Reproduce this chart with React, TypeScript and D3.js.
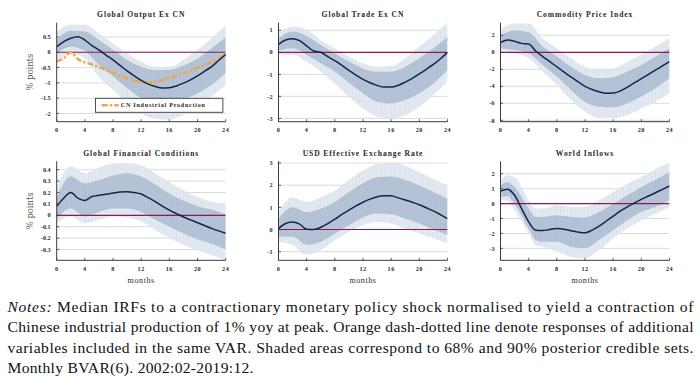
import React from "react";
import * as d3 from "d3";

// ---------- shared categories ----------
const months = d3.range(0, 25);
const xTickVals = [0, 4, 8, 12, 16, 20, 24];
const evenMonths = [0, 2, 4, 6, 8, 10, 12, 14, 16, 18, 20, 22, 24];

// ---------- Panel 1: Global Output Ex CN ----------
const p1Title = "Global Output Ex CN";
const p1Ticks = [0.5, 0, -0.5, -1, -1.5, -2];
const p1Median = [0.18, 0.35, 0.46, 0.51, 0.4, 0.22, 0.08, -0.09, -0.25, -0.43, -0.61, -0.77, -0.92, -1.04, -1.12, -1.17, -1.16, -1.1, -1.01, -0.9, -0.77, -0.62, -0.47, -0.27, -0.07];
const p1Orange = [-0.3, -0.2, 0, -0.22, -0.33, -0.4, -0.48, -0.58, -0.68, -0.77, -0.86, -0.93, -0.98, -1.0, -0.97, -0.91, -0.84, -0.76, -0.68, -0.6, -0.51, -0.42, -0.33, -0.2, -0.03];
const p1Hi90 = [0.67, 0.9, 0.9, 0.62, 0.29, -0.03, -0.3, -0.47, -0.47, -0.25, 0.08, 0.46, 0.88];
const p1Hi68 = [0.4, 0.7, 0.68, 0.4, 0.08, -0.25, -0.47, -0.58, -0.57, -0.43, -0.2, 0.13, 0.49];
const p1Lo68 = [-0.03, 0.18, 0.05, -0.41, -0.79, -1.17, -1.5, -1.66, -1.66, -1.55, -1.34, -1.07, -0.68];
const p1Lo90 = [-0.3, -0.05, -0.2, -0.8, -1.23, -1.66, -1.99, -2.18, -2.2, -2.04, -1.77, -1.45, -1.07];
const p1Legend = "CN Industrial Production";

// ---------- Panel 2: Global Trade Ex CN ----------
const p2Title = "Global Trade Ex CN";
const p2Ticks = [1, 0, -1, -2, -3];
const p2Median = [0.36, 0.56, 0.62, 0.53, 0.29, 0.06, 0.0, -0.2, -0.38, -0.59, -0.82, -1.03, -1.23, -1.38, -1.5, -1.58, -1.58, -1.5, -1.35, -1.18, -0.98, -0.77, -0.55, -0.29, 0.0];
const p2Hi90 = [0.86, 1.17, 1.02, 0.56, 0.18, -0.2, -0.5, -0.65, -0.62, -0.27, 0.26, 0.79, 1.35];
const p2Hi68 = [0.64, 0.94, 0.74, 0.33, -0.05, -0.42, -0.73, -0.88, -0.88, -0.65, -0.27, 0.18, 0.71];
const p2Lo68 = [0.08, 0.18, -0.12, -0.5, -0.88, -1.38, -1.86, -2.24, -2.32, -2.17, -1.86, -1.41, -0.8];
const p2Lo90 = [-0.12, -0.12, -0.42, -0.88, -1.41, -2.02, -2.55, -2.92, -3.0, -2.85, -2.47, -1.94, -1.33];

// ---------- Panel 3: Commodity Price Index ----------
const p3Title = "Commodity Price Index";
const p3Ticks = [2, 0, -2, -4, -6, -8];
const p3Median = [1.14, 1.45, 1.3, 1.05, 0.98, 0.15, -0.5, -1.1, -1.7, -2.3, -2.9, -3.45, -4.0, -4.38, -4.65, -4.82, -4.8, -4.55, -4.1, -3.6, -3.1, -2.6, -2.1, -1.6, -1.1];
const p3Hi90 = [2.7, 3.4, 3.4, 1.65, 0.47, -0.7, -1.7, -2.1, -1.9, -1.1, -0.3, 0.67, 1.65];
const p3Hi68 = [2.0, 2.55, 2.35, 0.67, -0.5, -1.7, -2.67, -3.06, -2.94, -2.27, -1.5, -0.5, 0.47];
const p3Lo68 = [0.47, 0.27, -0.12, -1.5, -2.86, -4.43, -5.8, -6.4, -6.47, -6.0, -5.2, -4.24, -3.06];
const p3Lo90 = [0.27, -0.1, -0.7, -2.27, -3.84, -5.6, -6.98, -7.76, -7.76, -7.37, -6.6, -5.8, -4.82];

// ---------- Panel 4: Global Financial Conditions ----------
const p4Title = "Global Financial Conditions";
const p4Ticks = [0.4, 0.3, 0.2, 0.1, 0, -0.1, -0.2, -0.3];
const p4Median = [0.08, 0.15, 0.2, 0.15, 0.13, 0.165, 0.175, 0.185, 0.195, 0.205, 0.207, 0.2, 0.187, 0.155, 0.12, 0.08, 0.045, 0.015, -0.015, -0.04, -0.065, -0.09, -0.115, -0.137, -0.157];
const p4Hi90 = [0.25, 0.43, 0.37, 0.42, 0.455, 0.46, 0.44, 0.37, 0.29, 0.22, 0.16, 0.12, 0.09];
const p4Hi68 = [0.16, 0.34, 0.28, 0.31, 0.35, 0.37, 0.34, 0.27, 0.19, 0.13, 0.08, 0.05, 0.01];
const p4Lo68 = [-0.03, 0.06, -0.01, 0.03, 0.06, 0.06, 0.03, -0.04, -0.1, -0.16, -0.21, -0.25, -0.3];
const p4Lo90 = [-0.07, -0.01, -0.07, -0.04, -0.01, -0.02, -0.055, -0.13, -0.2, -0.26, -0.31, -0.35, -0.39];

// ---------- Panel 5: USD Effective Exchange Rate ----------
const p5Title = "USD Effective Exchange Rate";
const p5Ticks = [3, 2, 1, 0, -1];
const p5Median = [0.04, 0.27, 0.34, 0.24, 0.01, 0.0, 0.1, 0.27, 0.47, 0.68, 0.88, 1.07, 1.23, 1.37, 1.48, 1.53, 1.52, 1.43, 1.33, 1.23, 1.12, 0.98, 0.84, 0.67, 0.49];
const p5Hi90 = [0.8, 1.46, 1.24, 1.46, 1.76, 2.24, 2.66, 2.96, 3.03, 2.88, 2.58, 2.28, 1.99];
const p5Hi68 = [0.49, 1.01, 0.79, 0.94, 1.24, 1.69, 2.09, 2.36, 2.39, 2.24, 1.99, 1.69, 1.39];
const p5Lo68 = [-0.33, -0.33, -0.7, -0.55, -0.18, 0.19, 0.54, 0.72, 0.69, 0.49, 0.27, 0.0, -0.25];
const p5Lo90 = [-0.55, -0.7, -1.15, -0.93, -0.48, -0.1, 0.19, 0.34, 0.27, 0.04, -0.18, -0.4, -0.63];

// ---------- Panel 6: World Inflows ----------
const p6Title = "World Inflows";
const p6Ticks = [2, 1, 0, -1, -2, -3];
const p6BandMonths = [0, 1, 2, 4, 5, 6, 8, 10, 12, 14, 16, 18, 20, 22, 24];
const p6Median = [0.84, 0.96, 0.56, -0.33, -1.22, -1.78, -1.8, -1.73, -1.67, -1.71, -1.82, -1.91, -1.96, -1.78, -1.51, -1.18, -0.84, -0.51, -0.22, 0.04, 0.29, 0.51, 0.73, 0.96, 1.18];
const p6Hi90 = [1.56, 1.9, 1.78, 0.22, -0.33, -0.33, -0.11, -0.22, -0.22, 0.22, 0.78, 1.33, 1.78, 2.33, 2.78];
const p6Hi68 = [1.22, 1.44, 1.11, -0.33, -0.89, -0.89, -0.78, -0.89, -0.93, -0.56, 0.0, 0.56, 1.11, 1.6, 2.11];
const p6Lo68 = [0.44, 0.5, 0.0, -1.67, -2.44, -2.56, -2.56, -2.89, -3.0, -2.44, -1.78, -1.11, -0.56, -0.22, 0.22];
const p6Lo90 = [0.22, 0.2, -0.44, -2.0, -2.78, -2.89, -3.22, -3.56, -3.67, -3.11, -2.33, -1.67, -1.11, -0.67, -0.22];

// ---------- notes ----------
const notesLines = [
  "Median IRFs to a contractionary monetary policy shock normalised to yield a contraction of",
  "Chinese industrial production of 1% yoy at peak. Orange dash-dotted line denote responses of additional",
  "variables included in the same VAR. Shaded areas correspond to 68% and 90% posterior credible sets.",
  "Monthly BVAR(6).  2002:02-2019:12.",
];

// ---------- layout / style ----------
const W = 700;
const H = 379;
const colLeft = [56.7, 278.5, 500.5];
const plotW = 169;
const rowTop = [22.7, 161.3];
const plotH = 99;

const C_OUT = "#e0e7f0";
const C_IN = "#abbcd1";
const C_MESH = "#7f93ad";
const C_MED = "#15244c";
const C_ZERO = "#8c1a58";
const C_GRID = "#d2d2d2";
const C_AXIS = "#3a3a3a";
const C_ORANGE = "#f0a646";
const TXT = "#2a2a2a";
const FONT = "'Liberation Serif', 'DejaVu Serif', serif";

type Spec = {
  id: string;
  title: string;
  ticks: number[];
  domain: [number, number];
  median: number[];
  bandX: number[];
  hi90: number[];
  hi68: number[];
  lo68: number[];
  lo90: number[];
  orange?: number[];
  legend?: string;
  ylabel?: boolean;
  xlabel?: boolean;
  col: number;
  row: number;
};

const specs: Spec[] = [
  { id: "p1", title: p1Title, ticks: p1Ticks, domain: [-2.27, 0.967], median: p1Median, bandX: evenMonths, hi90: p1Hi90, hi68: p1Hi68, lo68: p1Lo68, lo90: p1Lo90, orange: p1Orange, legend: p1Legend, ylabel: true, col: 0, row: 0 },
  { id: "p2", title: p2Title, ticks: p2Ticks, domain: [-3.15, 1.345], median: p2Median, bandX: evenMonths, hi90: p2Hi90, hi68: p2Hi68, lo68: p2Lo68, lo90: p2Lo90, col: 1, row: 0 },
  { id: "p3", title: p3Title, ticks: p3Ticks, domain: [-8.16, 3.48], median: p3Median, bandX: evenMonths, hi90: p3Hi90, hi68: p3Hi68, lo68: p3Lo68, lo90: p3Lo90, col: 2, row: 0 },
  { id: "p4", title: p4Title, ticks: p4Ticks, domain: [-0.395, 0.474], median: p4Median, bandX: evenMonths, hi90: p4Hi90, hi68: p4Hi68, lo68: p4Lo68, lo90: p4Lo90, ylabel: true, xlabel: true, col: 0, row: 1 },
  { id: "p5", title: p5Title, ticks: p5Ticks, domain: [-1.39, 3.08], median: p5Median, bandX: evenMonths, hi90: p5Hi90, hi68: p5Hi68, lo68: p5Lo68, lo90: p5Lo90, xlabel: true, col: 1, row: 1 },
  { id: "p6", title: p6Title, ticks: p6Ticks, domain: [-3.8, 2.84], median: p6Median, bandX: p6BandMonths, hi90: p6Hi90, hi68: p6Hi68, lo68: p6Lo68, lo90: p6Lo90, xlabel: true, col: 2, row: 1 },
];

const fmt = (v: number) => String(Math.round(v * 10) / 10);

function Panel({ s }: { s: Spec }) {
  const x0 = colLeft[s.col];
  const y0 = rowTop[s.row];
  const x = d3.scaleLinear().domain([0, 24]).range([x0, x0 + plotW]);
  const y = d3.scaleLinear().domain(s.domain).range([y0 + plotH, y0]);

  const band = (lo: number[], hi: number[]) =>
    d3
      .area<number>()
      .x((_, i) => x(s.bandX[i]))
      .y0((_, i) => y(lo[i]))
      .y1((_, i) => y(hi[i]))
      .curve(d3.curveMonotoneX)(lo) || "";
  const line = d3
    .line<number>()
    .x((_, i) => x(months[i]))
    .y((d) => y(d))
    .curve(d3.curveMonotoneX);

  const outer = band(s.lo90, s.hi90);
  const inner = band(s.lo68, s.hi68);
  const mesh = d3.range(0, 24.01, 0.5);

  return (
    <g>
      <defs>
        <clipPath id={`plot-${s.id}`}>
          <rect x={x0} y={y0} width={plotW} height={plotH} />
        </clipPath>
        <clipPath id={`band-${s.id}`}>
          <path d={outer} />
        </clipPath>
      </defs>
      <text x={x0 + plotW / 2} y={y0 - 5.5} textAnchor="middle" fontFamily={FONT} fontSize={7.6} fontWeight="bold" letterSpacing={0.9} fill={TXT}>
        {s.title}
      </text>
      {s.ticks.map((t) => (
        <line key={t} x1={x0} x2={x0 + plotW} y1={y(t)} y2={y(t)} stroke={C_GRID} strokeWidth={0.8} />
      ))}
      <g clipPath={`url(#plot-${s.id})`}>
        <path d={outer} fill={C_OUT} opacity={0.9} />
        <path d={inner} fill={C_IN} opacity={0.85} />
        <g clipPath={`url(#band-${s.id})`}>
          {mesh.map((m) => (
            <line key={m} x1={x(m)} x2={x(m)} y1={y0} y2={y0 + plotH} stroke={C_MESH} strokeWidth={0.5} opacity={0.16} />
          ))}
        </g>
        <line x1={x0} x2={x0 + plotW} y1={y(0)} y2={y(0)} stroke={C_ZERO} strokeWidth={1.2} />
        {s.orange && (
          <path d={line(s.orange) || ""} fill="none" stroke={C_ORANGE} strokeWidth={2.4} strokeDasharray="6,2,2.5,2" />
        )}
        <path d={line(s.median) || ""} fill="none" stroke={C_MED} strokeWidth={1.5} />
      </g>
      <line x1={x0} x2={x0} y1={y0} y2={y0 + plotH} stroke={C_AXIS} strokeWidth={1} />
      <line x1={x0} x2={x0 + plotW} y1={y0 + plotH} y2={y0 + plotH} stroke={C_AXIS} strokeWidth={1} />
      {s.ticks.map((t) => (
        <g key={t}>
          <line x1={x0} x2={x0 + 2.5} y1={y(t)} y2={y(t)} stroke={C_AXIS} strokeWidth={0.8} />
          <text x={x0 - 6} y={y(t)} dy="0.35em" textAnchor="end" fontFamily={FONT} fontSize={6.2} fontWeight="bold" fill={TXT}>
            {fmt(t)}
          </text>
        </g>
      ))}
      {xTickVals.map((t) => (
        <g key={t}>
          <line x1={x(t)} x2={x(t)} y1={y0 + plotH} y2={y0 + plotH - 2.5} stroke={C_AXIS} strokeWidth={0.8} />
          <text x={x(t)} y={y0 + plotH + 8.5} dy="0.35em" textAnchor="middle" fontFamily={FONT} fontSize={6.2} fontWeight="bold" letterSpacing={0.5} fill={TXT}>
            {t}
          </text>
        </g>
      ))}
      {s.ylabel && (
        <text transform={`translate(${x0 - 26.5},${y0 + plotH / 2}) rotate(-90)`} textAnchor="middle" dy="0.35em" fontFamily="'DejaVu Serif', serif" fontSize={8.4} fill="#555">
          % points
        </text>
      )}
      {s.xlabel && (
        <text x={x0 + plotW / 2} y={y0 + plotH + 19.5} dy="0.35em" textAnchor="middle" fontFamily={FONT} fontSize={8} letterSpacing={0.6} fill={TXT}>
          months
        </text>
      )}
      {s.legend && (
        <g>
          <rect x={x(5.5)} y={y0 + 75.6} width={x(23.6) - x(5.5)} height={14} fill="#fff" stroke={C_AXIS} strokeWidth={0.9} />
          <line x1={x(6.4)} x2={x(8.8)} y1={y0 + 82.6} y2={y0 + 82.6} stroke={C_ORANGE} strokeWidth={2.4} strokeDasharray="6,2,2.5,2" />
          <text x={x(9.1)} y={y0 + 82.6} dy="0.35em" fontFamily={FONT} fontSize={6.1} fontWeight="bold" letterSpacing={0.75} fill={TXT}>
            {s.legend}
          </text>
        </g>
      )}
    </g>
  );
}

export default function App() {
  const noteX = 7.5;
  const noteY = [311.5, 332, 352.5, 372.5];
  const noteLen = [686, 686, 686, 246];
  return (
    <svg width={W} height={H} style={{ position: "absolute", left: 0, top: 0, background: "#fff" }}>
      <rect x={0} y={0} width={W} height={H} fill="#fff" />
      {specs.map((s) => (
        <Panel key={s.id} s={s} />
      ))}
      {notesLines.map((ln, i) => (
        <text
          key={i}
          x={noteX}
          y={noteY[i]}
          fontFamily={FONT}
          fontSize={15.6}
          fill="#111"
          textLength={noteLen[i]}
          lengthAdjust="spacing"
        >
          {i === 0 && <tspan fontStyle="italic">Notes: </tspan>}
          {ln}
        </text>
      ))}
    </svg>
  );
}
